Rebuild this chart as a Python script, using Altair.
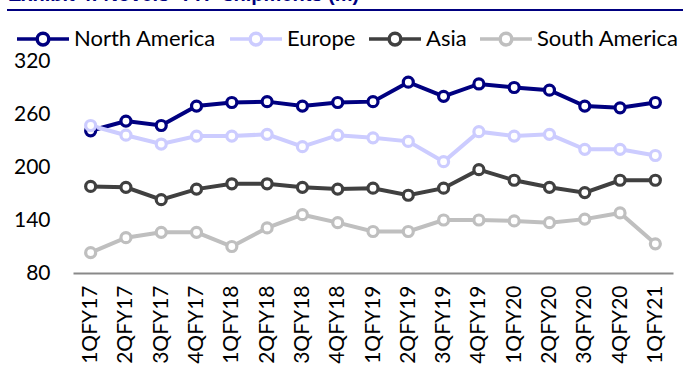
import altair as alt
import pandas as pd

quarters = ["1QFY17", "2QFY17", "3QFY17", "4QFY17", "1QFY18", "2QFY18", "3QFY18", "4QFY18",
            "1QFY19", "2QFY19", "3QFY19", "4QFY19", "1QFY20", "2QFY20", "3QFY20", "4QFY20", "1QFY21"]
regions = ["North America", "Europe", "Asia", "South America"]
north_america = [241, 252, 247, 269, 273, 274, 269, 273, 274, 296, 280, 294, 290, 287, 269, 267, 273]
europe = [247, 236, 226, 235, 235, 237, 223, 236, 233, 229, 206, 240, 235, 237, 220, 220, 213]
asia = [178, 177, 163, 175, 181, 181, 177, 175, 176, 168, 176, 197, 185, 177, 171, 185, 185]
south_america = [103, 120, 126, 126, 110, 131, 146, 137, 127, 127, 140, 140, 139, 137, 141, 148, 113]
colors = ["#000080", "#CCCCFF", "#404040", "#BFBFBF"]
y_ticks = [80, 140, 200, 260, 320]
title_text = "Exhibit 4: Novels' TTP shipments (m)"

series = [north_america, europe, asia, south_america]
rows = []
for r, vals in zip(regions, series):
    for q, v in zip(quarters, vals):
        rows.append({"quarter": q, "region": r, "value": v})
df = pd.DataFrame(rows)

FONT = "Lato"
W, H = 600, 212
L, T = 73, 61

x_enc = alt.X("quarter:N", sort=quarters, scale=alt.Scale(domain=quarters, padding=0.5),
              axis=alt.Axis(title=None, labelAngle=270, labelAlign="right", labelBaseline="middle",
                            labelPadding=12, ticks=False, domainColor="#898989", domainWidth=2,
                            labelFont=FONT, labelFontSize=21, labelColor="#000000", grid=False))
y_enc = alt.Y("value:Q", scale=alt.Scale(domain=[80, 320], nice=False, zero=False),
              axis=alt.Axis(title=None, values=y_ticks, domain=False, ticks=False, grid=False,
                            labelPadding=23, labelFont=FONT, labelFontSize=21, labelColor="#000000"))

r = 0.225
sym = (f"M-1,0L-{r},0M{r},0L1,0M-{r},0A{r},{r},0,1,1,{r},0A{r},{r},0,1,1,-{r},0Z")

color_scale = alt.Scale(domain=regions, range=colors)
legend = alt.Legend(title=None, orient="none", direction="horizontal",
                    legendX=15 - L, legendY=11 - T, padding=0,
                    symbolType=sym, symbolSize=2704, symbolStrokeWidth=3.5,
                    symbolFillColor="white", symbolOpacity=1,
                    labelFont=FONT, labelFontSize=22, labelColor="#000000",
                    labelOffset=3, columnPadding=6, columns=4)
color_enc = alt.Color("region:N", scale=color_scale, sort=regions, legend=legend)

lines = alt.Chart(df).mark_line(strokeWidth=4).encode(
    x=x_enc, y=y_enc, color=color_enc, detail="region:N",
)

points = alt.Chart(df).mark_point(shape="circle", filled=False, fill="white", fillOpacity=1,
                                  opacity=1, strokeWidth=3.2, size=100).encode(
    x=x_enc, y=y_enc, color=color_enc,
)

title = alt.Chart(pd.DataFrame({"t": [title_text]})).mark_text(
    align="left", baseline="alphabetic", font="Liberation Sans", fontSize=20, fontWeight="bold",
    color="#000080").encode(text="t:N", x=alt.value(8 - L), y=alt.value(1 - T))

rule = alt.Chart(pd.DataFrame({"a": [0]})).mark_rule(color="#000080", strokeWidth=2.2).encode(
    x=alt.value(7 - L), x2=alt.value(683 - L), y=alt.value(10 - T))

chart = alt.layer(lines, points, title, rule).properties(
    width=W, height=H,
    padding={"left": L, "top": T, "right": 683 - L - W, "bottom": 379 - T - H},
    autosize=alt.AutoSizeParams(type="none"),
).configure_view(stroke=None)

chart.save("out.html", embed_options={"renderer": "svg", "actions": False})
